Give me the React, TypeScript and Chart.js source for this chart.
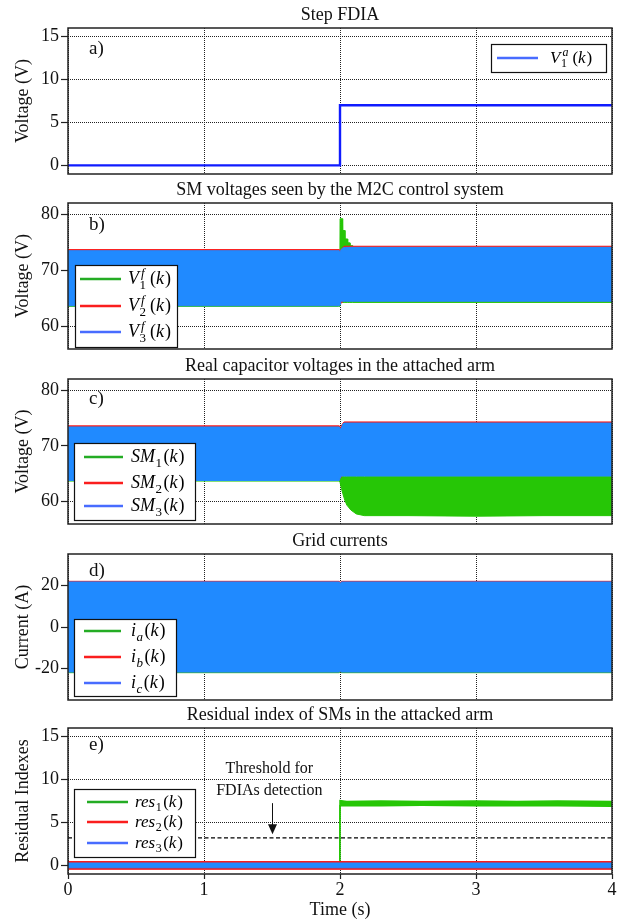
import React, { useEffect, useRef } from 'react';
import { Chart, registerables } from 'chart.js';

Chart.register(...registerables);

const FONT = '"Liberation Serif", "Times New Roman", serif';
Chart.defaults.font.family = FONT;
Chart.defaults.color = '#111';

// ---------------- axis ticks ----------------
const timeTicks = [0, 1, 2, 3, 4];
const indexTicks = [0, 5, 10, 15];
const voltTicks = [60, 70, 80];
const currentTicks = [-20, 0, 20];

// ---------------- a) step FDIA ----------------
const fdiaTime = [0, 2, 2, 4];
const fdiaValue = [0, 0, 7, 7];

// ---------------- b) SM voltages seen by control (envelopes) ----------------
const bV3Time = [0, 1, 1.995, 2.0, 2.005, 2.02, 2.04, 3, 4];
const bV3Upper = [73.5, 73.5, 73.5, 73.3, 73.6, 74.0, 74.1, 74.1, 74.1];
const bV3Lower = [63.7, 63.7, 63.7, 63.9, 64.5, 64.5, 64.5, 64.5, 64.5];
const bV2Time = [0, 1.995, 2.0, 2.03, 4];
const bV2Upper = [73.7, 73.7, 73.5, 74.3, 74.3];
const bV2Lower = [63.8, 63.8, 64.0, 64.6, 64.6];
const bV1Time = [0, 1.99, 1.9995, 2.0005, 2.0185, 2.0195, 2.0355, 2.0365, 2.0555, 2.0565, 2.0725, 2.0735, 2.092, 2.093, 4];
const bV1Upper = [73.4, 73.4, 73.2, 79.2, 79.2, 77.1, 77.1, 75.6, 75.6, 74.9, 74.9, 74.4, 74.4, 74.0, 74.0];
const bV1Lower = [63.6, 63.6, 63.6, 64.3, 64.3, 64.3, 64.3, 64.3, 64.3, 64.3, 64.3, 64.3, 64.3, 64.3, 64.3];

// ---------------- c) real capacitor voltages (envelopes) ----------------
const cSM3Time = [0, 1, 1.995, 2.0, 2.01, 2.02, 2.03, 3, 4];
const cSM3Upper = [73.4, 73.4, 73.4, 73.0, 73.2, 73.9, 74.1, 74.1, 74.1];
const cSM3Lower = [63.8, 63.8, 63.8, 64.2, 64.6, 64.6, 64.6, 64.6, 64.6];
const cSM2Time = [0, 1.995, 2.0, 2.02, 2.03, 4];
const cSM2Upper = [73.6, 73.6, 73.2, 74.0, 74.3, 74.3];
const cSM2Lower = [63.9, 63.9, 64.2, 64.7, 64.7, 64.7];
const cSM1Time = [0, 1, 1.995, 2.0, 2.01, 2.02, 2.035, 2.05, 2.08, 2.12, 2.18, 2.5, 3, 3.5, 4];
const cSM1Upper = [73.3, 73.3, 73.3, 64.6, 64.5, 64.5, 64.5, 64.5, 64.5, 64.5, 64.5, 64.5, 64.5, 64.5, 64.5];
const cSM1Lower = [63.7, 63.7, 63.7, 63.5, 62.4, 61.5, 60.3, 59.4, 58.5, 57.8, 57.5, 57.5, 57.4, 57.5, 57.5];

// ---------------- d) grid currents (envelopes) ----------------
const dTime = [0, 1, 1.995, 2.0, 2.01, 3, 4];
const dIcUpper = [21.6, 21.6, 21.6, 20.6, 21.6, 21.6, 21.6];
const dIcLower = [-21.6, -21.6, -21.6, -21.0, -21.6, -21.6, -21.6];
const dIbUpper = [21.9, 21.9, 21.9, 21.0, 21.9, 21.9, 21.9];
const dIbLower = [-21.4, -21.4, -21.4, -20.8, -21.4, -21.4, -21.4];
const dIaUpper = [21.4, 21.4, 21.4, 20.8, 21.4, 21.4, 21.4];
const dIaLower = [-21.9, -21.9, -21.9, -21.2, -21.9, -21.9, -21.9];

// ---------------- e) residual indexes (envelopes) ----------------
const eTime = [0, 1, 2, 3, 4];
const res3Upper = [0.28, 0.28, 0.28, 0.28, 0.28];
const res3Lower = [-0.28, -0.28, -0.28, -0.28, -0.28];
const res2Upper = [0.45, 0.45, 0.45, 0.45, 0.45];
const res2Lower = [-0.45, -0.45, -0.45, -0.45, -0.45];
const res1Time = [0, 1, 1.998, 2.0, 2.05, 2.3, 2.6, 3.0, 3.3, 3.6, 4.0];
const res1Upper = [0.15, 0.15, 0.15, 7.55, 7.45, 7.5, 7.45, 7.5, 7.45, 7.5, 7.45];
const res1Lower = [-0.3, -0.3, -0.3, 6.95, 6.95, 6.95, 7.0, 6.95, 6.95, 6.95, 6.9];
const thresholdTime = [0, 4];
const thresholdValue = [3.2, 3.2];
const thresholdNoteLines = ['Threshold for', 'FDIAs detection'];
const thresholdNoteX = 1.48;
const thresholdNoteY = [11.3, 8.65];
const arrowX = 1.5;
const arrowFrom = 7.25;
const arrowTo = 3.62;

// ---------------- texts ----------------
const panelTitles = [
  'Step FDIA',
  'SM voltages seen by the M2C control system',
  'Real capacitor voltages in the attached arm',
  'Grid currents',
  'Residual index of SMs in the attacked arm',
];
const yTitles = ['Voltage (V)', 'Voltage (V)', 'Voltage (V)', 'Current (A)', 'Residual Indexes'];
const panelTags = ['a)', 'b)', 'c)', 'd)', 'e)'];
const xTitle = 'Time (s)';

type MathLabel = { base: string; sub?: string; sup?: string; subItalic?: boolean; arg: string };
const legendA: MathLabel[] = [{ base: 'V', sub: '1', sup: 'a', arg: 'k' }];
const legendB: MathLabel[] = [
  { base: 'V', sub: '1', sup: 'f', arg: 'k' },
  { base: 'V', sub: '2', sup: 'f', arg: 'k' },
  { base: 'V', sub: '3', sup: 'f', arg: 'k' },
];
const legendC: MathLabel[] = [
  { base: 'SM', sub: '1', arg: 'k' },
  { base: 'SM', sub: '2', arg: 'k' },
  { base: 'SM', sub: '3', arg: 'k' },
];
const legendD: MathLabel[] = [
  { base: 'i', sub: 'a', subItalic: true, arg: 'k' },
  { base: 'i', sub: 'b', subItalic: true, arg: 'k' },
  { base: 'i', sub: 'c', subItalic: true, arg: 'k' },
];
const legendE: MathLabel[] = [
  { base: 'res', sub: '1', arg: 'k' },
  { base: 'res', sub: '2', arg: 'k' },
  { base: 'res', sub: '3', arg: 'k' },
];

// ---------------- colours ----------------
const GREEN = 'rgb(38, 198, 6)';
const RED = 'rgb(250, 24, 24)';
const BLUE = 'rgb(32, 138, 255)';
const STEP_BLUE = 'rgb(16, 28, 255)';
const LEG_GREEN = 'rgb(36, 172, 36)';
const LEG_RED = 'rgb(250, 30, 30)';
const LEG_BLUE = 'rgb(72, 108, 255)';
const GRID = '#222';

// ---------------- helpers ----------------
function pts(t: number[], v: number[]) {
  return t.map((x, i) => ({ x, y: v[i] }));
}

function band(t: number[], up: number[], lo: number[], color: string, order: number, bw = 1) {
  return [
    { data: pts(t, up), borderColor: color, backgroundColor: color, borderWidth: bw, pointRadius: 0, fill: '+1', order, tension: 0 },
    { data: pts(t, lo), borderColor: color, backgroundColor: color, borderWidth: bw, pointRadius: 0, fill: false, order, tension: 0 },
  ];
}

function drawMath(ctx: CanvasRenderingContext2D, x: number, y: number, lab: MathLabel, size: number) {
  const small = Math.round(size * 0.7);
  const baseY = y + size * 0.3;
  ctx.fillStyle = '#000';
  ctx.textBaseline = 'alphabetic';
  ctx.textAlign = 'left';
  ctx.font = `italic ${size}px ${FONT}`;
  ctx.fillText(lab.base, x, baseY);
  x += ctx.measureText(lab.base).width + 0.5;
  let w = 0;
  if (lab.sup) {
    ctx.font = `italic ${small}px ${FONT}`;
    ctx.fillText(lab.sup, x + 1.5, baseY - size * 0.42);
    w = Math.max(w, ctx.measureText(lab.sup).width + 1.5);
  }
  if (lab.sub) {
    ctx.font = `${lab.subItalic ? 'italic ' : ''}${small}px ${FONT}`;
    ctx.fillText(lab.sub, x, baseY + size * 0.24);
    w = Math.max(w, ctx.measureText(lab.sub).width);
  }
  x += w + (lab.sup ? 4 : 1.5);
  ctx.font = `${size}px ${FONT}`;
  ctx.fillText('(', x, baseY);
  x += ctx.measureText('(').width;
  ctx.font = `italic ${size}px ${FONT}`;
  ctx.fillText(lab.arg, x, baseY);
  x += ctx.measureText(lab.arg).width + 1;
  ctx.font = `${size}px ${FONT}`;
  ctx.fillText(')', x, baseY);
}

type LegendSpec = {
  dx: number; dy: number; w: number; h: number;
  lineX1: number; lineX2: number; textX: number;
  rows: number[]; colors: string[]; labels: MathLabel[]; size: number;
};

const framePlugin = {
  id: 'frameBox',
  afterDatasetsDraw(chart: any) {
    const { ctx, chartArea: a } = chart;
    ctx.save();
    ctx.setLineDash([]);
    ctx.strokeStyle = '#222';
    ctx.lineWidth = 1.5;
    ctx.strokeRect(a.left, a.top, a.right - a.left, a.bottom - a.top);
    ctx.restore();
  },
};

function legendPlugin(spec: LegendSpec) {
  return {
    id: 'mathLegend',
    afterDatasetsDraw(chart: any) {
      const { ctx, chartArea: a } = chart;
      const x0 = a.left + spec.dx;
      const y0 = a.top + spec.dy;
      ctx.save();
      ctx.setLineDash([]);
      ctx.fillStyle = '#fff';
      ctx.fillRect(x0, y0, spec.w, spec.h);
      ctx.strokeStyle = '#111';
      ctx.lineWidth = 1.2;
      ctx.strokeRect(x0 + 0.5, y0 + 0.5, spec.w, spec.h);
      spec.labels.forEach((lab, i) => {
        const y = a.top + spec.rows[i];
        ctx.strokeStyle = spec.colors[i];
        ctx.lineWidth = 2.5;
        ctx.beginPath();
        ctx.moveTo(a.left + spec.lineX1, y);
        ctx.lineTo(a.left + spec.lineX2, y);
        ctx.stroke();
        drawMath(ctx, a.left + spec.textX, y, lab, spec.size);
      });
      ctx.restore();
    },
  };
}

function tagPlugin(text: string, dy: number) {
  return {
    id: 'panelTag',
    afterDatasetsDraw(chart: any) {
      const { ctx, chartArea: a } = chart;
      ctx.save();
      ctx.fillStyle = '#111';
      ctx.font = `19px ${FONT}`;
      ctx.textAlign = 'left';
      ctx.textBaseline = 'middle';
      ctx.fillText(text, a.left + 21, a.top + dy);
      ctx.restore();
    },
  };
}

const thresholdPlugin = {
  id: 'thresholdNote',
  afterDatasetsDraw(chart: any) {
    const { ctx, scales } = chart;
    const xs = scales.x;
    const ys = scales.y;
    ctx.save();
    ctx.fillStyle = '#111';
    ctx.font = `16px ${FONT}`;
    ctx.textAlign = 'center';
    ctx.textBaseline = 'middle';
    thresholdNoteLines.forEach((line, i) => {
      ctx.fillText(line, xs.getPixelForValue(thresholdNoteX), ys.getPixelForValue(thresholdNoteY[i]));
    });
    const ax = Math.round(xs.getPixelForValue(arrowX)) + 0.5;
    const y1 = ys.getPixelForValue(arrowFrom);
    const y2 = ys.getPixelForValue(arrowTo);
    ctx.strokeStyle = '#111';
    ctx.lineWidth = 1;
    ctx.setLineDash([]);
    ctx.beginPath();
    ctx.moveTo(ax, y1);
    ctx.lineTo(ax, y2 - 8);
    ctx.stroke();
    ctx.beginPath();
    ctx.moveTo(ax - 4.5, y2 - 10);
    ctx.lineTo(ax + 4.5, y2 - 10);
    ctx.lineTo(ax, y2);
    ctx.closePath();
    ctx.fill();
    ctx.restore();
  },
};

function xScale(showLabels: boolean) {
  return {
    type: 'linear',
    min: 0,
    max: 4,
    afterBuildTicks: (s: any) => {
      s.ticks = timeTicks.map((v) => ({ value: v }));
    },
    afterFit: (s: any) => {
      s.height = showLabels ? 47 : 2;
      s.paddingLeft = 0;
      s.paddingRight = 0;
    },
    grid: {
      color: GRID,
      lineWidth: 1,
      drawTicks: showLabels,
      tickLength: 5,
      tickColor: '#222',
      tickWidth: 1.2,
      tickBorderDash: [],
    },
    border: { display: false, dash: [1, 1] },
    ticks: {
      display: showLabels,
      font: { size: 18 },
      color: '#111',
      padding: 0,
      maxRotation: 0,
      autoSkip: false,
      callback: (v: any) => String(v),
    },
    title: {
      display: showLabels,
      text: xTitle,
      font: { size: 18 },
      color: '#111',
      padding: { top: 0, bottom: 0 },
    },
  };
}

function yScale(min: number, max: number, ticks: number[], title: string) {
  return {
    type: 'linear',
    min,
    max,
    afterBuildTicks: (s: any) => {
      s.ticks = ticks.map((v) => ({ value: v }));
    },
    afterFit: (s: any) => {
      s.width = 68;
      s.paddingTop = 0;
      s.paddingBottom = 0;
    },
    grid: {
      color: GRID,
      lineWidth: 1,
      drawTicks: true,
      tickLength: 7,
      tickColor: '#222',
      tickWidth: 1.2,
      tickBorderDash: [],
    },
    border: { display: false, dash: [1, 1] },
    ticks: {
      font: { size: 18 },
      color: '#111',
      padding: 2,
      autoSkip: false,
      callback: (v: any) => String(v),
    },
    title: {
      display: true,
      text: title,
      font: { size: 18 },
      color: '#111',
      padding: { top: 12, bottom: 0 },
    },
  };
}

type PanelSpec = {
  top: number;
  height: number;
  title: string;
  yTitle: string;
  yMin: number;
  yMax: number;
  yTicks: number[];
  showX: boolean;
  datasets: any[];
  legend: LegendSpec;
  tag: string;
  tagDy: number;
  extra?: any[];
};

function makeConfig(p: PanelSpec): any {
  return {
    type: 'line',
    data: { datasets: p.datasets },
    options: {
      animation: false,
      responsive: false,
      devicePixelRatio: 1,
      layout: { padding: { left: 0, right: 17, top: 0, bottom: 0 } },
      plugins: {
        legend: { display: false },
        tooltip: { enabled: false },
        title: {
          display: true,
          text: p.title,
          fullSize: false,
          color: '#111',
          font: { size: 18, weight: 'normal', lineHeight: '20px' },
          padding: { top: 5, bottom: 3 },
        },
      },
      scales: {
        x: xScale(p.showX),
        y: yScale(p.yMin, p.yMax, p.yTicks, p.yTitle),
      },
      elements: { point: { radius: 0 }, line: { tension: 0 } },
    },
    plugins: [framePlugin, legendPlugin(p.legend), tagPlugin(p.tag, p.tagDy), ...(p.extra || [])],
  };
}

const panels: PanelSpec[] = [
  {
    top: 0,
    height: 176,
    title: panelTitles[0],
    yTitle: yTitles[0],
    yMin: -1,
    yMax: 16,
    yTicks: indexTicks,
    showX: false,
    datasets: [
      { data: pts(fdiaTime, fdiaValue), borderColor: STEP_BLUE, borderWidth: 2.4, pointRadius: 0, fill: false, tension: 0 },
    ],
    legend: {
      dx: 423, dy: 16, w: 115, h: 28, lineX1: 429, lineX2: 470, textX: 482,
      rows: [30], colors: [LEG_BLUE], labels: legendA, size: 17,
    },
    tag: panelTags[0],
    tagDy: 21,
  },
  {
    top: 175,
    height: 176,
    title: panelTitles[1],
    yTitle: yTitles[1],
    yMin: 56,
    yMax: 82,
    yTicks: voltTicks,
    showX: false,
    datasets: [
      ...band(bV3Time, bV3Upper, bV3Lower, BLUE, 1),
      ...band(bV2Time, bV2Upper, bV2Lower, RED, 2),
      ...band(bV1Time, bV1Upper, bV1Lower, GREEN, 3),
    ],
    legend: {
      dx: 7, dy: 62, w: 102, h: 82, lineX1: 12, lineX2: 53, textX: 60,
      rows: [76, 103, 129], colors: [LEG_GREEN, LEG_RED, LEG_BLUE], labels: legendB, size: 18,
    },
    tag: panelTags[1],
    tagDy: 22,
  },
  {
    top: 351,
    height: 175,
    title: panelTitles[2],
    yTitle: yTitles[2],
    yMin: 56,
    yMax: 82,
    yTicks: voltTicks,
    showX: false,
    datasets: [
      ...band(cSM3Time, cSM3Upper, cSM3Lower, BLUE, 1),
      ...band(cSM2Time, cSM2Upper, cSM2Lower, RED, 2),
      ...band(cSM1Time, cSM1Upper, cSM1Lower, GREEN, 3),
    ],
    legend: {
      dx: 6, dy: 64, w: 121, h: 77, lineX1: 16, lineX2: 55, textX: 63,
      rows: [78, 104, 127], colors: [LEG_GREEN, LEG_RED, LEG_BLUE], labels: legendC, size: 18,
    },
    tag: panelTags[2],
    tagDy: 20,
  },
  {
    top: 526,
    height: 176,
    title: panelTitles[3],
    yTitle: yTitles[3],
    yMin: -35,
    yMax: 35,
    yTicks: currentTicks,
    showX: false,
    datasets: [
      ...band(dTime, dIcUpper, dIcLower, BLUE, 1),
      ...band(dTime, dIbUpper, dIbLower, RED, 2),
      ...band(dTime, dIaUpper, dIaLower, GREEN, 3),
    ],
    legend: {
      dx: 6, dy: 65, w: 102, h: 77, lineX1: 16, lineX2: 53, textX: 63,
      rows: [77, 103, 129], colors: [LEG_GREEN, LEG_RED, LEG_BLUE], labels: legendD, size: 18,
    },
    tag: panelTags[3],
    tagDy: 17,
  },
  {
    top: 700,
    height: 221,
    title: panelTitles[4],
    yTitle: yTitles[4],
    yMin: -1,
    yMax: 16,
    yTicks: indexTicks,
    showX: true,
    datasets: [
      {
        data: pts(thresholdTime, thresholdValue), borderColor: '#000', borderWidth: 1.2, borderDash: [4, 2.5],
        pointRadius: 0, fill: false, order: 0, tension: 0,
      },
      ...band(eTime, res3Upper, res3Lower, BLUE, 1),
      ...band(eTime, res2Upper, res2Lower, RED, 2),
      ...band(res1Time, res1Upper, res1Lower, GREEN, 3, 1.5),
    ],
    legend: {
      dx: 6, dy: 61, w: 121, h: 68, lineX1: 19, lineX2: 60, textX: 67,
      rows: [74, 94, 115], colors: [LEG_GREEN, LEG_RED, LEG_BLUE], labels: legendE, size: 17,
    },
    tag: panelTags[4],
    tagDy: 17,
    extra: [thresholdPlugin],
  },
];

function ChartPanel({ spec }: { spec: PanelSpec }) {
  const ref = useRef<HTMLCanvasElement>(null);
  useEffect(() => {
    if (!ref.current) return;
    const chart = new Chart(ref.current, makeConfig(spec));
    return () => chart.destroy();
  }, [spec]);
  return (
    <canvas
      ref={ref}
      width={629}
      height={spec.height}
      style={{ position: 'absolute', left: 0, top: spec.top, width: 629, height: spec.height, display: 'block' }}
    />
  );
}

export default function App() {
  useEffect(() => {
    document.documentElement.style.overflow = 'hidden';
  }, []);
  return (
    <div style={{ position: 'absolute', left: 0, top: 0, width: 629, height: 921, background: '#fff', overflow: 'hidden' }}>
      {panels.map((p, i) => (
        <ChartPanel key={i} spec={p} />
      ))}
    </div>
  );
}
